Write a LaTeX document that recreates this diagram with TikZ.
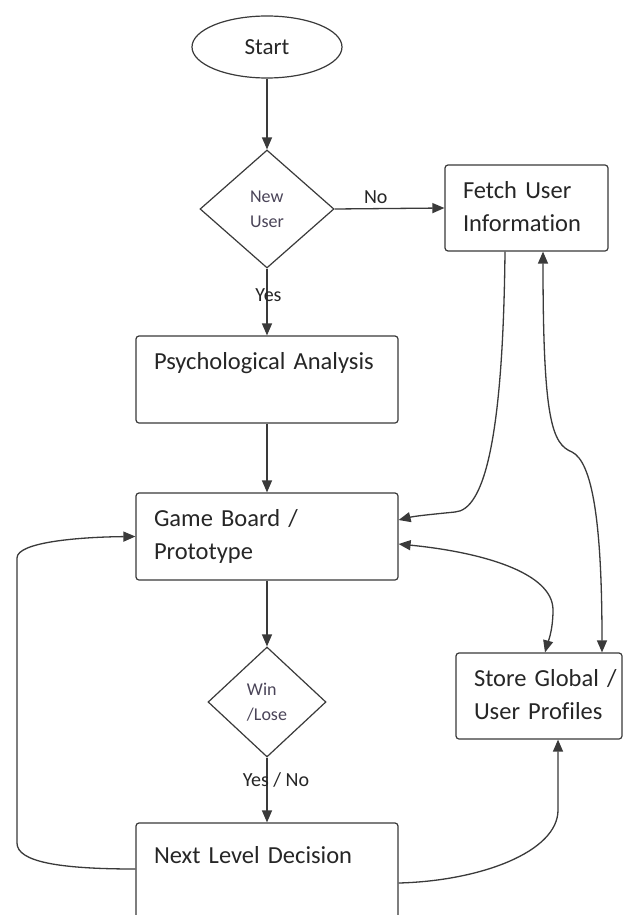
\documentclass[tikz,border=0pt]{standalone}
\usepackage{fontspec}
\setmainfont{Carlito}[Ligatures={NoCommon}]
\usetikzlibrary{shapes.geometric,arrows.meta,calc}
\definecolor{diatext}{HTML}{4A4458}
\definecolor{edge}{HTML}{3A3A3A}
\begin{document}
\begin{tikzpicture}[x=1pt,y=-1pt,
  line/.style={draw=edge, line width=1.3pt},
  arr/.style={line, -{Triangle[length=12pt,width=10pt]}},
  darr/.style={line, {Triangle[length=12pt,width=10pt]}-{Triangle[length=12pt,width=10pt]}},
  box/.style={draw=edge, line width=1.2pt, rounded corners=3pt, fill=white, align=left,
    inner xsep=18pt, inner ysep=0pt, font=\fontsize{24.5}{33}\selectfont, text=black!85},
  dia/.style={diamond, draw=edge, line width=1.2pt, fill=white, inner sep=0pt, align=left,
    font=\fontsize{18}{25}\selectfont, text=diatext},
  ell/.style={ellipse, draw=edge, line width=1.2pt, fill=white, inner sep=0pt,
    font=\fontsize{23}{28}\selectfont, text=black!85},
  lbl/.style={font=\fontsize{20}{24}\selectfont, text=black!85, inner sep=0pt},
]
\fill[white] (0,0) rectangle (626,915);
\useasboundingbox (0,0) rectangle (626,915);
\clip (0,0) rectangle (626,915);

% nodes
\node[ell, minimum width=150pt, minimum height=62pt] (start) at (267,47) {Start};
\node[dia, minimum width=134pt, minimum height=118pt] (newuser) at (267,209) {New\\User};
\node[box, minimum height=86pt, text width=127pt] (fetch) at (526.5,208) {\strut Fetch User\\\strut Information};
\node[box, minimum height=87pt, text width=226pt] (psych) at (267,379.5) {\strut Psychological Analysis\\\strut};
\node[box, minimum height=87pt, text width=226pt] (game) at (267,536.5) {\strut Game Board /\\\strut Prototype};
\node[dia, minimum width=118pt, minimum height=110pt] (winlose) at (267,702) {Win\\/Lose};
\node[box, minimum height=100pt, text width=226pt] (next) at (267,873) {\strut Next Level Decision\\\strut};
\node[box, minimum height=86pt, text width=130pt] (store) at (539,696) {\strut Store~Global~/\\\strut User Profiles};

% straight connectors
\draw[arr] (start.south) -- (newuser.north);
\draw[arr] (newuser.east) -- node[lbl, pos=0.375, yshift=11pt] {No} (fetch.west);
\draw[arr] (newuser.south) -- node[lbl, pos=0.4, xshift=1.5pt] {Yes} (psych.north);
\draw[arr] (psych.south) -- (game.north);
\draw[arr] (game.south) -- (winlose.north);
\draw[arr] (winlose.south) -- node[lbl, pos=0.35, xshift=9pt] {Yes / No} (next.north);

% curved connectors
\draw[arr] ($(fetch.south)+(-21.5,0)$) .. controls (503,440) and (484,510) .. (455,512)
  .. controls (435,514) and (415,516) .. ($(game.east)+(0,-16.5)$);
\draw[darr] ($(fetch.south)+(16.5,0)$) .. controls (543,420) and (552,444) .. (572,452)
  .. controls (592,462) and (602,520) .. ($(store.north)+(63,0)$);
\draw[darr] ($(game.east)+(0,7.5)$) .. controls (480,552) and (553,572) .. (553,610)
  .. controls (553,632) and (547,645) .. ($(store.north)+(6,0)$);
\draw[arr] ($(next.west)+(0,-4)$) .. controls (60,869) and (17,862) .. (17,843)
  -- (17,558) .. controls (17,542) and (80,537) .. (game.west);
\draw[arr] ($(next.east)+(0,10)$) .. controls (480,881) and (558,852) .. (558,810)
  -- ($(store.south)+(19,0)$);
\end{tikzpicture}
\end{document}
